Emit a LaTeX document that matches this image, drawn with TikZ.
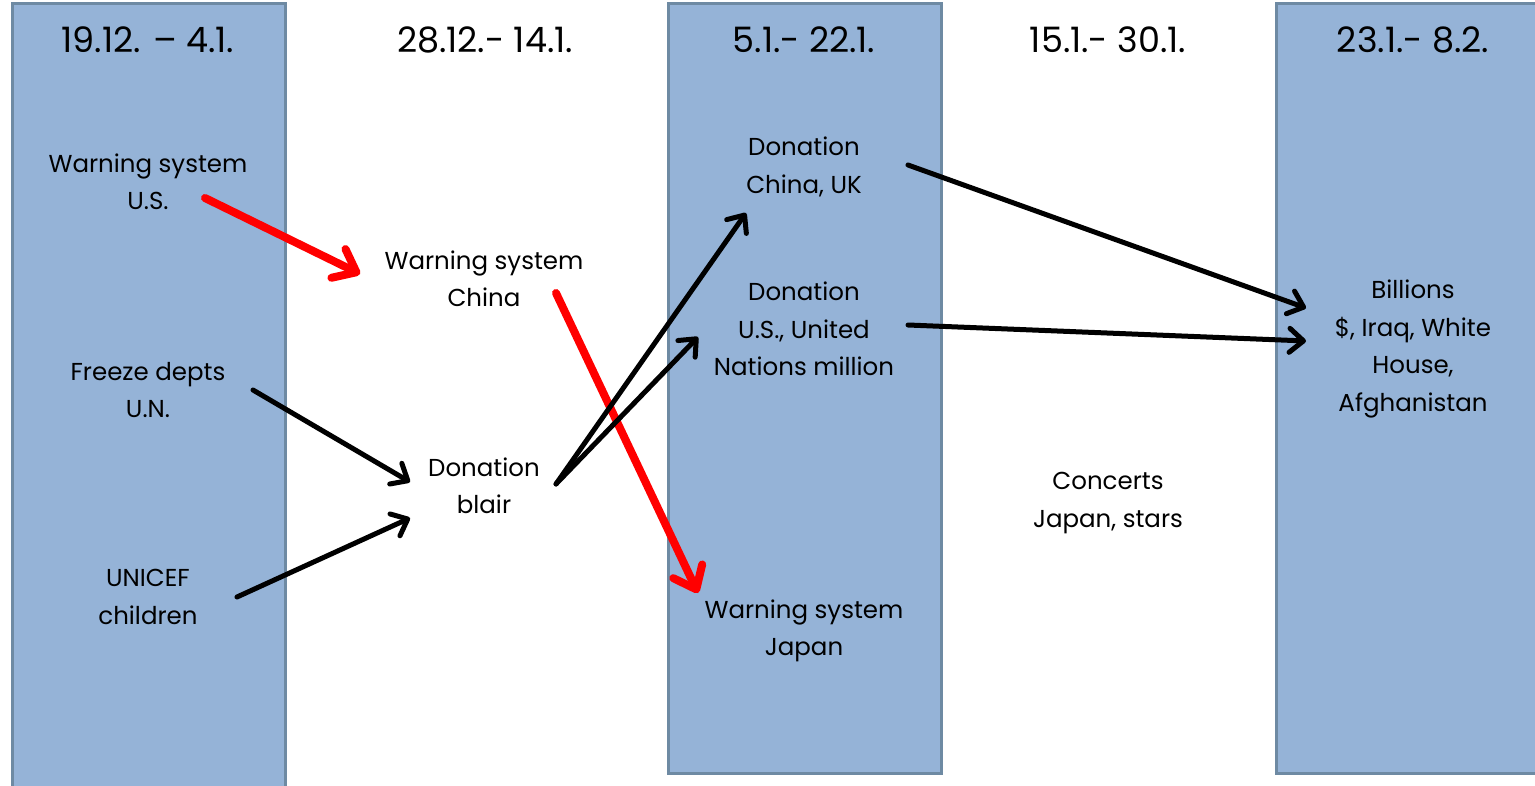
\documentclass[tikz,border=0pt]{standalone}
\usepackage{fontspec}
\setmainfont{Poppins}
\usetikzlibrary{arrows.meta,calc}
\definecolor{colfill}{HTML}{95B3D7}
\definecolor{colline}{HTML}{6E8AA3}
\begin{document}
\begin{tikzpicture}[x=1pt,y=-1pt,
  period/.style={fill=colfill,draw=colline,line width=3pt},
  head/.style={font=\fontsize{35}{40}\selectfont},
  topic/.style={align=center,font=\fontsize{24.5}{37.5}\selectfont},
  blackarr/.style={black,line width=5pt,line cap=round,-{Straight Barb[round,length=14pt,width=24pt]}},
  redarr/.style={red,line width=8pt,line cap=round,-{Straight Barb[round,length=20pt,width=32pt]}},
]
\useasboundingbox (0,0) rectangle (1535,786);
%% time periods
\draw [period] (12,4) rectangle (285,800);
\draw [period] (668,4) rectangle (941,773);
\draw [period] (1276,4) rectangle (1545,773);
\node (per_1) at (148,40) [head] {19.12. -- 4.1.};
\node (per_2) at (485,40) [head] {28.12.- 14.1.};
\node (per_3) at (804,40) [head] {5.1.- 22.1.};
\node (per_4) at (1108,40) [head] {15.1.- 30.1.};
\node (per_5) at (1413,40) [head] {23.1.- 8.2.};
%% topics
\node (ws_us) at (148,182) [topic] {Warning system\\U.S.};
\node (fz_un) at (148,390) [topic] {Freeze depts\\U.N.};
\node (unicef) at (148,597) [topic] {UNICEF\\children};
\node (ws_china) at (484,279) [topic] {Warning system\\China};
\node (don_blair) at (484,486) [topic] {Donation\\blair};
\node (don_cnuk) at (804,167) [topic] {Donation\\China, UK};
\node (don_usun) at (804,329) [topic] {Donation\\U.S., United\\Nations million};
\node (ws_japan) at (804,631) [topic] {Warning system\\Japan};
\node (concerts) at (1108,503) [topic] {Concerts\\Japan, stars};
\node (billions) at (1413,349) [topic] {Billions\\\$, Iraq, White\\House,\\Afghanistan};
%% links
\draw [redarr] ($(ws_us)+(57,16)$) -- ($(ws_china)+(-124,-5)$);
\draw [redarr] ($(ws_china)+(72,14)$) -- ($(ws_japan)+(-106,-38)$);
\draw [blackarr] ($(fz_un)+(105,0)$) -- ($(don_blair)+(-74,-4)$);
\draw [blackarr] ($(unicef)+(89,0)$) -- ($(don_blair)+(-74,32)$);
\draw [blackarr] ($(don_blair)+(72,-2)$) -- ($(don_cnuk)+(-58,46)$);
\draw [blackarr] ($(don_blair)+(72,-2)$) -- ($(don_usun)+(-106,8)$);
\draw [blackarr] ($(don_cnuk)+(104,-2)$) -- ($(billions)+(-107,-41)$);
\draw [blackarr] ($(don_usun)+(104,-4)$) -- ($(billions)+(-107,-8)$);
%
\end{tikzpicture}
\end{document}
